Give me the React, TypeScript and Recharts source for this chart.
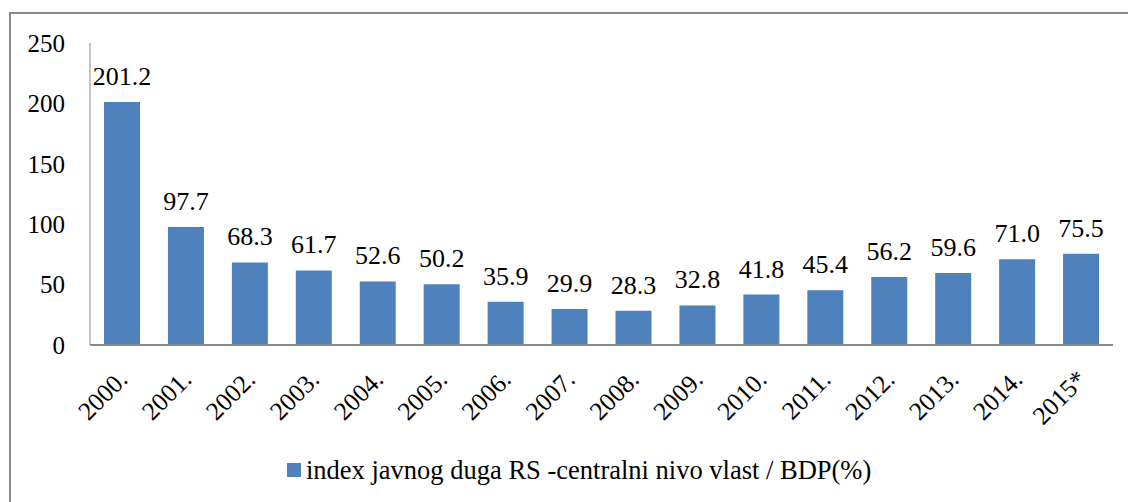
import { Bar, BarChart, LabelList, Legend, XAxis, YAxis } from 'recharts'

const years = [
  '2000.', '2001.', '2002.', '2003.', '2004.', '2005.', '2006.', '2007.',
  '2008.', '2009.', '2010.', '2011.', '2012.', '2013.', '2014.', '2015*',
]
const debtIndex = [
  201.2, 97.7, 68.3, 61.7, 52.6, 50.2, 35.9, 29.9,
  28.3, 32.8, 41.8, 45.4, 56.2, 59.6, 71.0, 75.5,
]
const yTicks = [0, 50, 100, 150, 200, 250]
const seriesName = 'index javnog duga RS -centralni nivo vlast / BDP(%)'

const data = years.map((year, i) => ({ year, value: debtIndex[i] }))

const font = 'Liberation Serif'
const axisGray = '#898989'
const barBlue = '#4F81BD'

function YearTick({ x, y, payload }: { x: number; y: number; payload: { value: string } }) {
  return (
    <text
      transform={`translate(${x + 7},${y + 28}) rotate(-45)`}
      textAnchor="end"
      style={{ fontFamily: font, fontSize: 25.5 }}
      fill="#000"
    >
      {payload.value}
    </text>
  )
}

function LegendBox() {
  return (
    <div style={{ display: 'flex', alignItems: 'center', height: 40, paddingLeft: 287, fontFamily: font, fontSize: 26.5, color: '#000' }}>
      <span style={{ display: 'inline-block', width: 14, height: 14, background: barBlue, marginRight: 5 }} />
      <span>{seriesName}</span>
    </div>
  )
}

export default function App() {
  return (
    <div style={{ position: 'absolute', left: 0, top: 0, width: 1128, height: 502, overflow: 'hidden', background: '#fff', fontFamily: font }}>
      <div style={{ position: 'absolute', left: 9, top: 12, width: 1140, height: 520, border: `2px solid ${axisGray}` }} />
      <BarChart
        width={1128}
        height={502}
        data={data}
        margin={{ top: 43, right: 15, bottom: 37, left: 0 }}
        style={{ position: 'absolute', left: 0, top: 0, fontFamily: font }}
      >
        <XAxis
          dataKey="year"
          interval={0}
          height={80}
          tickLine={false}
          axisLine={{ stroke: axisGray, strokeWidth: 2 }}
          tick={YearTick}
        />
        <YAxis
          width={90}
          domain={[0, 250]}
          ticks={yTicks}
          tickLine={false}
          tickMargin={19}
          axisLine={{ stroke: axisGray, strokeWidth: 1 }}
          tick={{ fontFamily: font, fontSize: 25, fill: '#000' }}
        />
        <Legend
          verticalAlign="bottom"
          content={LegendBox}
          wrapperStyle={{ position: 'absolute', top: 450, left: 0, width: 1128, height: 40 }}
        />
        <Bar dataKey="value" name={seriesName} fill={barBlue} barSize={36} isAnimationActive={false}>
          <LabelList
            dataKey="value"
            position="top"
            offset={17}
            formatter={(v: number) => v.toFixed(1)}
            style={{ fontFamily: font, fontSize: 26, fill: '#000' }}
          />
        </Bar>
      </BarChart>
    </div>
  )
}
